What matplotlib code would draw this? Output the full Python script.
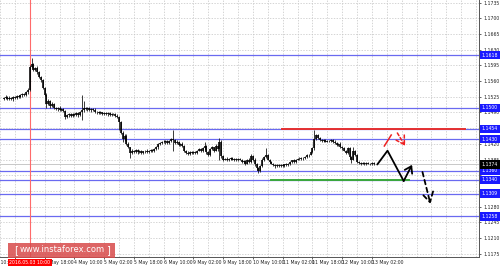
import numpy as np
import matplotlib
matplotlib.use("Agg")
import matplotlib.pyplot as plt
from matplotlib.patches import Rectangle

plt.rcParams["font.family"] = ["DejaVu Sans"]

# H1 bars, index 0 = 3 May 02:00
bar_index = list(range(-6, 194))
bar_close = [
    1.1522, 1.1525, 1.1520, 1.1523, 1.1519, 1.1524,
    1.1522, 1.1526, 1.1524, 1.1528, 1.1531, 1.1529, 1.1535, 1.1540, 1.1592, 1.1598,
    1.1585, 1.1590, 1.1580, 1.1570, 1.1562, 1.1545, 1.1530, 1.1510, 1.1515, 1.1505,
    1.1510, 1.1500, 1.1497, 1.1500, 1.1495, 1.1498, 1.1494, 1.1480, 1.1484, 1.1486,
    1.1482, 1.1487, 1.1485, 1.1488, 1.1484, 1.1490, 1.1495, 1.1500, 1.1497, 1.1500,
    1.1495, 1.1498, 1.1496, 1.1490, 1.1492, 1.1488, 1.1490, 1.1487, 1.1489, 1.1486,
    1.1488, 1.1485, 1.1487, 1.1487, 1.1483, 1.1480, 1.1468, 1.1445, 1.1430, 1.1438,
    1.1420, 1.1412, 1.1400, 1.1405, 1.1402, 1.1406, 1.1401, 1.1404, 1.1400, 1.1403,
    1.1405, 1.1401, 1.1404, 1.1406, 1.1404, 1.1408, 1.1412, 1.1420, 1.1422, 1.1425,
    1.1423, 1.1426, 1.1421, 1.1427, 1.1430, 1.1428, 1.1422, 1.1425, 1.1418, 1.1420,
    1.1416, 1.1405, 1.1400, 1.1398, 1.1402, 1.1399, 1.1401, 1.1400, 1.1405, 1.1408,
    1.1404, 1.1410, 1.1415, 1.1402, 1.1395, 1.1408, 1.1412, 1.1405, 1.1415, 1.1408,
    1.1425, 1.1392, 1.1385, 1.1387, 1.1384, 1.1386, 1.1388, 1.1385, 1.1387, 1.1384,
    1.1386, 1.1385, 1.1380, 1.1382, 1.1376, 1.1385, 1.1380, 1.1392, 1.1385, 1.1375,
    1.1365, 1.1360, 1.1370, 1.1385, 1.1390, 1.1395, 1.1385, 1.1380, 1.1376, 1.1372,
    1.1370, 1.1372, 1.1370, 1.1373, 1.1371, 1.1374, 1.1372, 1.1376, 1.1380, 1.1383,
    1.1380, 1.1385, 1.1387, 1.1386, 1.1389, 1.1388, 1.1390, 1.1394, 1.1396, 1.1402,
    1.1410, 1.1430, 1.1440, 1.1433, 1.1428, 1.1426, 1.1428, 1.1425, 1.1427, 1.1426,
    1.1428, 1.1425, 1.1422, 1.1418, 1.1420, 1.1413, 1.1410, 1.1405, 1.1400, 1.1410,
    1.1390, 1.1385, 1.1405, 1.1395, 1.1380, 1.1377, 1.1376, 1.1378, 1.1375, 1.1377,
    1.1376, 1.1375, 1.1377, 1.1374,
]
first_open = 1.1520
# wick lengths in pips above / below the body
upper_wick = [
    2, 3, 2, 3, 2, 2,
    3, 2, 2, 3, 2, 3, 2, 4, 5, 14,
    3, 2, 4, 3, 2, 3, 2, 3, 4, 2,
    3, 2, 3, 2, 4, 2, 3, 2, 3, 2,
    3, 2, 2, 3, 2, 4, 34, 15, 3, 2,
    3, 2, 2, 3, 2, 2, 3, 2, 2, 3,
    2, 3, 2, 2, 2, 3, 2, 4, 3, 3,
    3, 4, 2, 3, 2, 3, 2, 2, 3, 2,
    2, 3, 2, 2, 3, 2, 3, 2, 3, 2,
    3, 2, 3, 2, 3, 22, 2, 3, 2, 2,
    3, 2, 2, 3, 2, 2, 3, 2, 2, 3,
    2, 3, 10, 2, 3, 2, 3, 2, 5, 2,
    7, 3, 2, 2, 3, 2, 2, 3, 2, 2,
    2, 3, 2, 2, 3, 2, 3, 6, 2, 3,
    2, 3, 2, 3, 2, 15, 3, 2, 2, 2,
    2, 2, 3, 2, 2, 2, 3, 2, 2, 2,
    3, 2, 2, 3, 2, 2, 2, 3, 2, 3,
    3, 22, 3, 2, 3, 2, 2, 3, 2, 2,
    2, 2, 3, 2, 2, 3, 2, 3, 2, 3,
    2, 3, 7, 2, 3, 2, 2, 2, 2, 2,
    2, 2, 2, 2,
]
lower_wick = [
    2, 2, 3, 2, 2, 3,
    2, 3, 2, 2, 3, 2, 2, 3, 2, 3,
    3, 2, 3, 2, 3, 2, 3, 10, 3, 4,
    2, 3, 2, 3, 2, 2, 3, 4, 2, 3,
    2, 3, 2, 2, 3, 2, 16, 3, 2, 3,
    2, 3, 2, 2, 3, 2, 2, 3, 2, 2,
    3, 2, 2, 3, 2, 3, 18, 4, 5, 3,
    3, 2, 12, 3, 2, 2, 3, 2, 3, 2,
    3, 2, 2, 3, 2, 2, 2, 3, 2, 2,
    2, 3, 2, 2, 3, 23, 3, 2, 3, 2,
    2, 4, 3, 2, 3, 2, 2, 3, 2, 2,
    3, 2, 3, 4, 3, 2, 2, 3, 2, 3,
    23, 4, 3, 2, 2, 3, 2, 2, 3, 2,
    2, 2, 3, 2, 3, 2, 3, 2, 3, 4,
    3, 5, 2, 2, 3, 2, 2, 3, 2, 2,
    3, 2, 2, 2, 3, 2, 2, 2, 3, 2,
    2, 3, 2, 2, 2, 3, 2, 2, 3, 2,
    2, 3, 2, 3, 2, 2, 3, 2, 2, 3,
    2, 3, 2, 3, 2, 2, 3, 2, 3, 2,
    3, 7, 2, 3, 2, 2, 3, 2, 2, 2,
    2, 3, 2, 2,
]

price_ticks = [1.1735, 1.1700, 1.1665, 1.1630, 1.1595, 1.1560, 1.1525, 1.1490,
               1.1455, 1.1420, 1.1385, 1.1350, 1.1315, 1.1280, 1.1245, 1.1210, 1.1175]
time_ticks = [-16, 0, 16, 32, 48, 64, 80, 96, 112, 128, 144, 160, 176, 192]
time_labels = ["2 May 10:00", "3 May 02:00", "3 May 18:00", "4 May 10:00", "5 May 02:00",
               "5 May 18:00", "6 May 10:00", "9 May 02:00", "9 May 18:00", "10 May 10:00",
               "11 May 02:00", "11 May 18:00", "12 May 10:00", "13 May 02:00"]

levels = [1.1618, 1.1500, 1.1454, 1.1430, 1.1360, 1.1340, 1.1309, 1.1258]
last_price = 1.1374
marker_bar = 8
marker_label = "2016.05.03 10:00"
resistance = 1.1454
resistance_bars = [143.5, 242]
support = 1.1340
support_bars = [138, 211.7]

# forecast sketch
main_path_bars = [194.9, 200.4, 209.1, 213.6]
main_path_prices = [1.13739, 1.14047, 1.13371, 1.13732]
alt_solid_bars = [198.7, 202.4]
alt_solid_prices = [1.14152, 1.14397]
alt_dash_bars = [205.7, 209.9]
alt_dash_prices = [1.14442, 1.14152]
down_dash_bars = [219.2, 223.5]
down_dash_prices = [1.13571, 1.12857]

fig = plt.figure(figsize=(5, 2.67), dpi=100)
ax = fig.add_axes([0, 10 / 267, 479 / 500, 257 / 267])
ax.set_xlim(-5.87, 249.6)
ax.set_ylim(1.116741, 1.174107)

# grid
ax.set_yticks(price_ticks)
ax.set_yticklabels(["" if p in (1.1455, 1.1350, 1.1315) else f"{p:.4f}" for p in price_ticks])
ax.set_xticks([t for t in time_ticks if t >= -5])
ax.set_xticklabels([])
ax.set_xticks(np.arange(-8, 250, 8), minor=True)
ax.grid(True, which="both", color="#c4c4c4", linestyle=(0, (2, 2)), linewidth=0.5)
ax.set_axisbelow(True)
ax.yaxis.tick_right()
ax.tick_params(axis="y", labelsize=3.3, length=1.5, width=0.5, pad=1.5, colors="#222222")
ax.tick_params(axis="x", length=1.5, width=0.5, colors="#222222")
ax.tick_params(axis="x", which="minor", length=0)
for s in ("left", "top"):
    ax.spines[s].set_visible(False)
for s in ("right", "bottom"):
    ax.spines[s].set_color("#555555")
    ax.spines[s].set_linewidth(0.7)

for pos, lab in zip(time_ticks, time_labels):
    if pos == 0:
        continue  # sits under the red time marker
    ax.text(pos, -0.012, lab, transform=ax.get_xaxis_transform(), ha="left", va="top",
            fontsize=3.3, color="#222222", clip_on=False)

# level lines
for lv in levels:
    ax.axhline(lv, color="#6a6af0", lw=0.9, zorder=2)
ax.axhline(last_price, color="#c8c8c8", lw=0.7, zorder=1.5)
ax.plot(resistance_bars, [resistance, resistance], color="#e53030", lw=1.4, zorder=3)
ax.plot(support_bars, [support, support], color="#3aa83a", lw=1.4, zorder=3)
ax.axvline(marker_bar, color="#ff6a6a", lw=0.8, zorder=2)

# candles
opens = [first_open] + bar_close[:-1]
for i, o, c, uw, lw_ in zip(bar_index, opens, bar_close, upper_wick, lower_wick):
    hi = max(o, c) + uw * 0.0001
    lo = min(o, c) - lw_ * 0.0001
    ax.vlines(i, lo, hi, color="#1a1a1a", lw=0.6, zorder=4)
    top, bot = max(o, c), min(o, c)
    if top - bot < 0.00005:
        top += 0.00004
        bot -= 0.00004
    ax.vlines(i, bot, top, color="black", lw=1.15, zorder=5)

# forecast arrows
ax.plot(main_path_bars[:-1], main_path_prices[:-1], color="black", lw=1.3, zorder=6,
        solid_capstyle="round")
ax.annotate("", xy=(main_path_bars[-1], main_path_prices[-1]),
            xytext=(main_path_bars[-2], main_path_prices[-2]),
            arrowprops=dict(arrowstyle="->,head_length=0.45,head_width=0.3", color="black",
                            lw=1.3, mutation_scale=10, shrinkA=0, shrinkB=0), zorder=6)
ax.plot(alt_solid_bars, alt_solid_prices, color="#ee2222", lw=1.1, zorder=6)
ax.annotate("", xy=(alt_dash_bars[1], alt_dash_prices[1]),
            xytext=(alt_dash_bars[0], alt_dash_prices[0]),
            arrowprops=dict(arrowstyle="->,head_length=0.6,head_width=0.35", color="#ee2222",
                            lw=1.1, linestyle=(0, (2, 1.5)), mutation_scale=10,
                            shrinkA=0, shrinkB=0), zorder=6)
ax.annotate("", xy=(down_dash_bars[1], down_dash_prices[1]),
            xytext=(down_dash_bars[0], down_dash_prices[0]),
            arrowprops=dict(arrowstyle="->,head_length=0.7,head_width=0.4", color="black",
                            lw=1.3, linestyle=(0, (2.5, 2)), mutation_scale=10,
                            shrinkA=0, shrinkB=0), zorder=6)

# price labels on the right scale
ytr = ax.get_yaxis_transform()
for lv in levels:
    ax.text(1.006, lv, f"{lv:.4f}", transform=ytr, ha="left", va="center", fontsize=3.3,
            color="white", clip_on=False, zorder=10,
            bbox=dict(boxstyle="square,pad=0.35", fc="#1a1aff", ec="none"))
ax.text(1.006, last_price, f"{last_price:.4f}", transform=ytr, ha="left", va="center",
        fontsize=3.3, color="white", clip_on=False, zorder=11,
        bbox=dict(boxstyle="square,pad=0.35", fc="black", ec="none"))

# time marker label
ax.text(marker_bar, -0.012, marker_label, transform=ax.get_xaxis_transform(), ha="center",
        va="top", fontsize=3.3, color="white", clip_on=False, zorder=10,
        bbox=dict(boxstyle="square,pad=0.3", fc="#ff0000", ec="none"))

# watermark
fig.patches.append(Rectangle((8 / 500, 9 / 267), 107 / 500, 15 / 267, transform=fig.transFigure,
                             facecolor="#d84a4a", alpha=0.85, edgecolor="none", zorder=20))
fig.text(16 / 500, 17 / 267, "[", color="white", fontsize=7, ha="center", va="center", zorder=21)
fig.text(62 / 500, 17 / 267, "www.instaforex.com", color="white", fontsize=6, ha="center",
         va="center", zorder=21)
fig.text(108 / 500, 17 / 267, "]", color="white", fontsize=7, ha="center", va="center", zorder=21)

fig.savefig("out.png", dpi=100)
